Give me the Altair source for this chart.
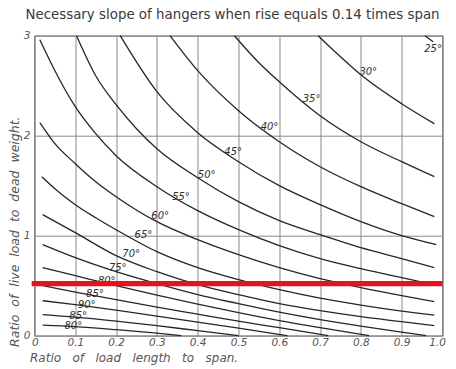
import altair as alt
import pandas as pd

NB3 = "\u00a0\u00a0\u00a0"
NB2 = "\u00a0\u00a0"
TITLE = "Necessary slope of hangers when rise equals 0.14 times span"
X_TITLE = NB3.join(["Ratio", "of", "load", "length", "to", "span."])
Y_TITLE = NB2.join(["Ratio", "of", "live", "load", "to", "dead", "weight."])

X_TICKS = [0, 0.1, 0.2, 0.3, 0.4, 0.5, 0.6, 0.7, 0.8, 0.9, 1.0]
Y_TICKS = [0, 1, 2, 3]

# curves (x = load length / span, y = live / dead)
X_25 = [0.957, 0.977]
Y_25 = [3.0, 2.94]
X_30 = [0.695, 0.75, 0.8, 0.9, 0.98]
Y_30 = [3.0, 2.79, 2.61, 2.32, 2.12]
X_35 = [0.49, 0.55, 0.6, 0.7, 0.8, 0.9, 0.98]
Y_35 = [3.0, 2.73, 2.54, 2.2, 1.94, 1.74, 1.59]
X_40 = [0.332, 0.4, 0.5, 0.6, 0.7, 0.8, 0.9, 0.98]
Y_40 = [3.0, 2.65, 2.25, 1.94, 1.69, 1.49, 1.32, 1.19]
X_45 = [0.21, 0.3, 0.4, 0.5, 0.6, 0.7, 0.8, 0.9, 0.985]
Y_45 = [3.0, 2.44, 2.03, 1.74, 1.5, 1.31, 1.14, 1.0, 0.91]
X_50 = [0.103, 0.15, 0.2, 0.25, 0.3, 0.4, 0.5, 0.6, 0.7, 0.8, 0.9, 0.98]
Y_50 = [3.0, 2.6, 2.31, 2.07, 1.87, 1.58, 1.34, 1.15, 1.01, 0.88, 0.77, 0.68]
X_55 = [0.013, 0.05, 0.1, 0.15, 0.2, 0.3, 0.4, 0.5, 0.6, 0.7, 0.8, 0.9, 0.98]
Y_55 = [2.96, 2.65, 2.29, 2.02, 1.8, 1.49, 1.25, 1.06, 0.9, 0.77, 0.67, 0.58, 0.51]
X_60 = [0.013, 0.05, 0.1, 0.15, 0.2, 0.3, 0.4, 0.5, 0.6, 0.7, 0.8, 0.9, 0.98]
Y_60 = [2.13, 1.92, 1.72, 1.54, 1.39, 1.14, 0.96, 0.81, 0.68, 0.57, 0.48, 0.4, 0.34]
X_65 = [0.018, 0.05, 0.1, 0.15, 0.2, 0.3, 0.4, 0.5, 0.6, 0.7, 0.8, 0.9, 0.98]
Y_65 = [1.59, 1.47, 1.31, 1.18, 1.06, 0.84, 0.68, 0.56, 0.46, 0.375, 0.305, 0.245, 0.205]
X_70 = [0.02, 0.1, 0.2, 0.3, 0.4, 0.5, 0.6, 0.7, 0.8, 0.9, 0.98]
Y_70 = [1.21, 1.03, 0.8, 0.64, 0.51, 0.41, 0.32, 0.25, 0.19, 0.14, 0.1]
X_75 = [0.02, 0.1, 0.2, 0.3, 0.4, 0.5, 0.6, 0.7, 0.8, 0.9, 0.96]
Y_75 = [0.91, 0.78, 0.64, 0.52, 0.41, 0.32, 0.235, 0.16, 0.095, 0.035, 0.0]
X_80 = [0.02, 0.1, 0.2, 0.3, 0.4, 0.5, 0.6, 0.7, 0.82]
Y_80 = [0.68, 0.6, 0.5, 0.405, 0.315, 0.23, 0.15, 0.08, 0.0]
X_85 = [0.02, 0.1, 0.2, 0.3, 0.4, 0.5, 0.6, 0.72]
Y_85 = [0.5, 0.435, 0.36, 0.285, 0.215, 0.145, 0.08, 0.0]
X_90 = [0.02, 0.1, 0.2, 0.3, 0.4, 0.5, 0.62]
Y_90 = [0.35, 0.31, 0.255, 0.195, 0.135, 0.075, 0.0]
X_85B = [0.02, 0.1, 0.2, 0.3, 0.4, 0.5]
Y_85B = [0.21, 0.185, 0.145, 0.1, 0.05, 0.0]
X_80B = [0.02, 0.1, 0.2, 0.3, 0.36]
Y_80B = [0.105, 0.09, 0.06, 0.025, 0.0]

CURVE_IDS = ["c25", "c30", "c35", "c40", "c45", "c50", "c55", "c60",
             "c65", "c70", "c75", "c80", "c85", "c90", "c85b", "c80b"]
CURVE_X = [X_25, X_30, X_35, X_40, X_45, X_50, X_55, X_60,
           X_65, X_70, X_75, X_80, X_85, X_90, X_85B, X_80B]
CURVE_Y = [Y_25, Y_30, Y_35, Y_40, Y_45, Y_50, Y_55, Y_60,
           Y_65, Y_70, Y_75, Y_80, Y_85, Y_90, Y_85B, Y_80B]

LABEL_TEXT = ["25°", "30°", "35°", "40°", "45°", "50°", "55°", "60°",
              "65°", "70°", "75°", "80°", "85°", "90°", "85°", "80°"]
LABEL_X = [0.977, 0.818, 0.679, 0.576, 0.487, 0.422, 0.359, 0.308,
           0.267, 0.237, 0.204, 0.177, 0.148, 0.128, 0.107, 0.095]
LABEL_Y = [2.87, 2.64, 2.37, 2.09, 1.84, 1.61, 1.385, 1.2,
           1.007, 0.82, 0.68, 0.55, 0.42, 0.305, 0.195, 0.095]

RED_Y = 0.52
RED_X = [-0.007, 1.0]

rows = []
for cid, xs, ys in zip(CURVE_IDS, CURVE_X, CURVE_Y):
    for xv, yv in zip(xs, ys):
        rows.append({"curve": cid, "x": xv, "y": yv})
curves_df = pd.DataFrame(rows)
labels_df = pd.DataFrame({"x": LABEL_X, "y": LABEL_Y, "t": LABEL_TEXT})
red_df = pd.DataFrame({"x": [RED_X[0]], "x2": [RED_X[1]], "y": [RED_Y]})

xscale = alt.Scale(domain=[0, 1], nice=False, zero=False)
yscale = alt.Scale(domain=[0, 3], nice=False)

xaxis = alt.Axis(values=X_TICKS, title=None, grid=True, ticks=False, domain=False,
                 labelFlush=True, labelFlushOffset=3, labelOverlap=False,
                 labelExpr="datum.value == 0 ? '0' : format(datum.value, '.1f')",
                 labelPadding=2)
yaxis = alt.Axis(values=Y_TICKS, title=None, grid=True, ticks=False, domain=False,
                 labelFlush=False, labelOverlap=False,
                 format="d", labelPadding=4.5)

lines = alt.Chart(curves_df).mark_line(
    interpolate="monotone", color="#262626", strokeWidth=1.3
).encode(
    x=alt.X("x:Q", scale=xscale, axis=xaxis),
    y=alt.Y("y:Q", scale=yscale, axis=yaxis),
    detail="curve:N",
    order="x:Q",
)

labels = alt.Chart(labels_df).mark_text(
    font="DejaVu Sans", fontStyle="italic", fontSize=10, color="#303030"
).encode(
    x=alt.X("x:Q", scale=xscale),
    y=alt.Y("y:Q", scale=yscale),
    text="t:N",
)

red = alt.Chart(red_df).mark_rule(color="#e3141c", strokeWidth=5.3).encode(
    x=alt.X("x:Q", scale=xscale), x2="x2:Q", y=alt.Y("y:Q", scale=yscale)
)

title = alt.Chart(pd.DataFrame({"t": [TITLE]})).mark_text(
    font="DejaVu Sans", fontSize=13.4, color="#3a3a3a", align="center", baseline="middle"
).encode(x=alt.value(198), y=alt.value(-20.5), text="t:N")

xtitle = alt.Chart(pd.DataFrame({"t": [X_TITLE]})).mark_text(
    font="DejaVu Sans", fontStyle="italic", fontSize=12, color="#555555",
    align="left", baseline="middle"
).encode(x=alt.value(-4.5), y=alt.value(322.5), text="t:N")

ytitle = alt.Chart(pd.DataFrame({"t": [Y_TITLE]})).mark_text(
    font="DejaVu Sans", fontStyle="italic", fontSize=12.5, color="#555555",
    align="center", baseline="middle", angle=270
).encode(x=alt.value(-19.5), y=alt.value(196), text="t:N")

chart = alt.layer(lines, labels, red, title, xtitle, ytitle).properties(
    width=408, height=300,
    autosize=alt.AutoSizeParams(type="none"),
    padding={"left": 26.5, "top": 27.7, "right": 5.5, "bottom": 32},
    background="white",
).configure_view(
    stroke="#666666", strokeWidth=1.2
).configure_axis(
    gridColor="#8a8a8a", gridWidth=1, gridOpacity=1,
    labelFont="DejaVu Sans", labelFontStyle="italic", labelFontSize=10.5,
    labelColor="#555555"
)

chart.save("out.html", embed_options={"renderer": "svg", "actions": False})
